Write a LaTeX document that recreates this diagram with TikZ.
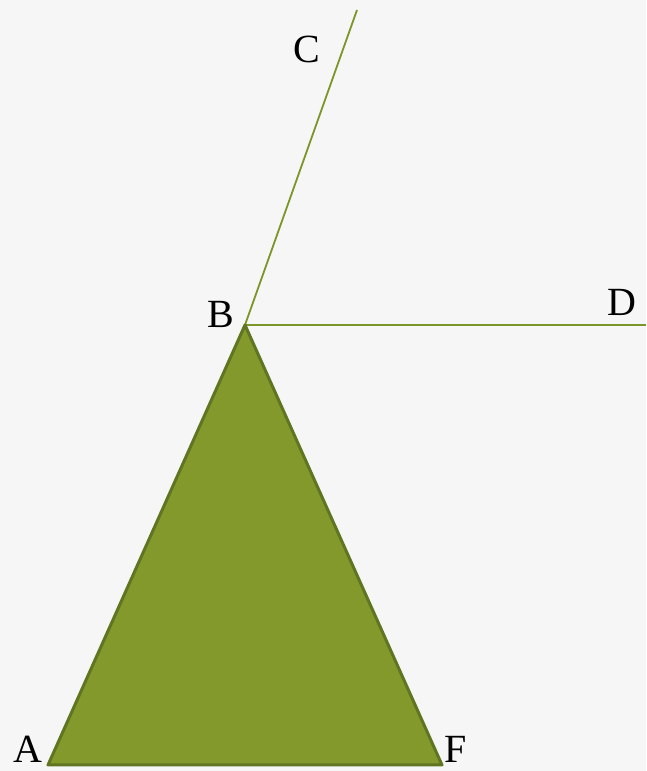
\documentclass[tikz,border=0pt]{standalone}
\usepackage{fontspec}
\setmainfont{Liberation Serif}
\definecolor{bgc}{HTML}{F6F6F6}
\definecolor{trifill}{HTML}{83992C}
\definecolor{tridraw}{HTML}{5F7522}
\definecolor{raycol}{HTML}{7A9628}
\begin{document}
\begin{tikzpicture}[x=1pt,y=1pt,
  lbl/.style={font=\fontsize{40}{40}\selectfont, inner sep=0pt}]
\fill[bgc] (0,0) rectangle (646,771);
\useasboundingbox (0,0) rectangle (646,771);
\coordinate (A) at (48,6);
\coordinate (F) at (442,6);
\coordinate (B) at (245,446);
\coordinate (C) at (357,761);
\coordinate (D) at (646,446);
\draw[raycol, line width=1.8pt] (B) -- (C);
\draw[raycol, line width=1.8pt] (B) -- (D);
\filldraw[fill=trifill, draw=tridraw, line width=3pt, line join=round] (A) -- (B) -- (F) -- cycle;
\node[lbl] (lB) at (221,457) {B};
\node[lbl] (lC) at (307,722) {C};
\node[lbl] (lD) at (622,469) {D};
\node[lbl] (lA) at (28,22) {A};
\node[lbl] (lF) at (456,22) {F};
\end{tikzpicture}
\end{document}
